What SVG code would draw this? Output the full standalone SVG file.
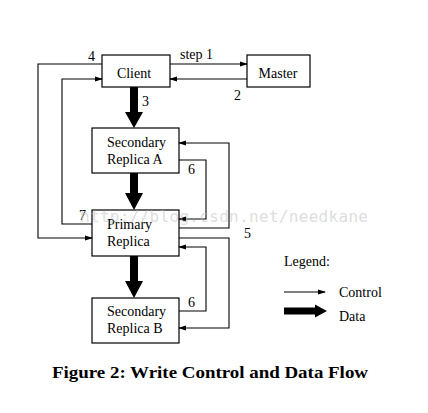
<svg xmlns="http://www.w3.org/2000/svg" width="428" height="413" viewBox="0 0 428 413">
<defs>
<marker id="ah" markerWidth="8" markerHeight="6" refX="7" refY="3" orient="auto" markerUnits="userSpaceOnUse">
<path d="M0,0.5 L8,3 L0,5.5 Z" fill="#000"/>
</marker>
<style>
.box{fill:#fff;stroke:#000;stroke-width:1.2}
.t{font-family:"Liberation Serif","Times New Roman",serif;font-size:14px;fill:#000}
.c{fill:none;stroke:#000;stroke-width:1.1}
.d{fill:#000}
</style>
</defs>
<rect width="428" height="413" fill="#fff"/>
<g id="client"><rect class="box" x="102" y="55" width="68" height="32"/><text class="t" x="134" y="78" text-anchor="middle">Client</text></g>
<g id="master"><rect class="box" x="247" y="55" width="63" height="32"/><text class="t" x="278" y="78" text-anchor="middle">Master</text></g>
<g id="secA"><rect class="box" x="92" y="128" width="87" height="45"/><text class="t" x="107" y="147">Secondary</text><text class="t" x="107" y="164">Replica A</text></g>
<g id="primary"><rect class="box" x="92" y="210" width="87" height="46"/><text class="t" x="107" y="229">Primary</text><text class="t" x="107" y="246">Replica</text></g>
<g id="secB"><rect class="box" x="92" y="298" width="87" height="45"/><text class="t" x="107" y="316">Secondary</text><text class="t" x="107" y="333">Replica B</text></g>
<g id="connectors">
<line class="c" x1="170" y1="64" x2="247" y2="64" marker-end="url(#ah)"/>
<line class="c" x1="247" y1="79" x2="170" y2="79" marker-end="url(#ah)"/>
<polyline class="c" points="102,64 38,64 38,238 92,238" marker-end="url(#ah)"/>
<polyline class="c" points="92,224 62,224 62,79 102,79" marker-end="url(#ah)"/>
<polyline class="c" points="179,160 206,160 206,219 179,219" marker-end="url(#ah)"/>
<polyline class="c" points="179,228 229,228 229,143 179,143" marker-end="url(#ah)"/>
<polyline class="c" points="179,238 229,238 229,328 179,328" marker-end="url(#ah)"/>
<polyline class="c" points="179,311 206,311 206,247 179,247" marker-end="url(#ah)"/>
<polygon class="d" points="130,87 138,87 138,112 143,112 134,128 125,112 130,112"/>
<polygon class="d" points="130,173 138,173 138,193 143,193 134,210 125,193 130,193"/>
<polygon class="d" points="130,256 138,256 138,281 143,281 134,298 125,281 130,281"/>
</g>
<g id="labels">
<text class="t" x="180" y="59">step 1</text>
<text class="t" x="234" y="100">2</text>
<text class="t" x="142" y="106">3</text>
<text class="t" x="88" y="61">4</text>
<text class="t" x="244" y="238">5</text>
<text class="t" x="188" y="174">6</text>
<text class="t" x="188" y="307">6</text>
<text class="t" x="79" y="220">7</text>
</g>
<g id="legend">
<text class="t" x="284" y="266">Legend:</text>
<line class="c" x1="284" y1="292" x2="325" y2="292" marker-end="url(#ah)"/>
<text class="t" x="339" y="297">Control</text>
<polygon class="d" points="284,307.5 315,307.5 315,304.5 327,311 315,317.5 315,314.5 284,314.5"/>
<text class="t" x="339" y="321">Data</text>
</g>
<text x="80" y="222" font-family="DejaVu Sans Mono,monospace" font-size="16" fill="#bbb" fill-opacity="0.5" textLength="288">http://blog.csdn.net/needkane</text>
<text x="52" y="378" font-family="Liberation Serif,serif" font-weight="bold" font-size="16" textLength="316" lengthAdjust="spacingAndGlyphs">Figure 2: Write Control and Data Flow</text>
</svg>
